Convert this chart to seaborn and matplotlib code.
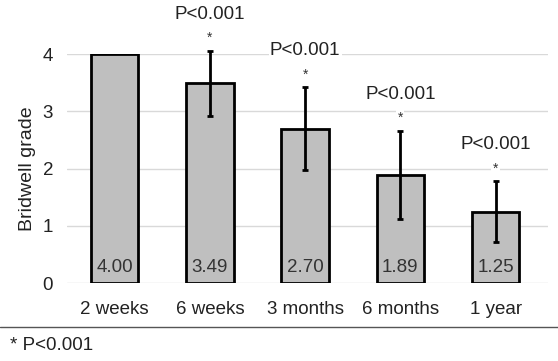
import numpy as np
from matplotlib import pyplot as plt
import pandas as pd
import seaborn as sns

timepoints = ["2 weeks", "6 weeks", "3 months", "6 months", "1 year"]
means = [4.00, 3.49, 2.70, 1.89, 1.25]
sds = [0.0, 0.57, 0.72, 0.77, 0.53]
p_labels = ["", "P<0.001", "P<0.001", "P<0.001", "P<0.001"]

sns.set_style("white")
plt.rcParams['font.family'] = ['Liberation Sans', 'DejaVu Sans']

data = pd.DataFrame({"Time": timepoints, "Grade": means, "SD": sds})

fig = plt.figure(figsize=(5.58, 3.61), dpi=100)
ax = fig.add_axes([0.12, 0.216, 0.862, 0.634])
ax: plt.Axes

sns.barplot(data=data, x="Time", y="Grade", ax=ax, color="#bfbfbf",
            saturation=1, width=0.5, edgecolor="black", linewidth=2,
            errorbar=None, zorder=3)

# SD error bars and labels
xs = np.arange(len(timepoints))
for x, m, s, p in zip(xs, means, sds, p_labels):
    if s > 0:
        ax.errorbar(x, m, yerr=s, color="black", elinewidth=2, capsize=2.5,
                    capthick=2, zorder=4, clip_on=False)
    ax.text(x, 0.28, f"{m:.2f}", ha="center", va="center", fontsize=13.5,
            color="#333333", zorder=5)
    if p:
        top = m + s
        ax.text(x, top + 0.22, "*", ha="center", va="center", fontsize=10,
                color="#333333", zorder=5,
                bbox=dict(facecolor="white", edgecolor="none", pad=1))
        ax.text(x, top + 0.64, p, ha="center", va="center", fontsize=13.5,
                color="#222222", zorder=5,
                bbox=dict(facecolor="white", edgecolor="none", pad=1))

ax.set_ylim(0, 4)
ax.set_xlim(-0.5, 4.55)
ax.set_yticks([0, 1, 2, 3, 4])
ax.yaxis.grid(True, color="#d9d9d9", linewidth=1, zorder=0)
ax.set_axisbelow(True)
for sp in ax.spines.values():
    sp.set_visible(False)
ax.tick_params(axis="both", length=0, labelsize=13.5, labelcolor="#222222")
ax.tick_params(axis="x", pad=13)
ax.tick_params(axis="y", pad=10)
ax.set_xlabel("")
ax.set_ylabel("Bridwell grade", fontsize=14, color="#222222", labelpad=5)

# separator line and footnote
fig.add_artist(plt.Line2D([0, 1], [1 - 327 / 361] * 2, color="#555555",
                          linewidth=1, transform=fig.transFigure))
fig.text(0.018, 1 - 346 / 361, "* P<0.001", fontsize=13.5, color="#222222",
         va="center", ha="left")

plt.savefig("out.png", dpi=100)
